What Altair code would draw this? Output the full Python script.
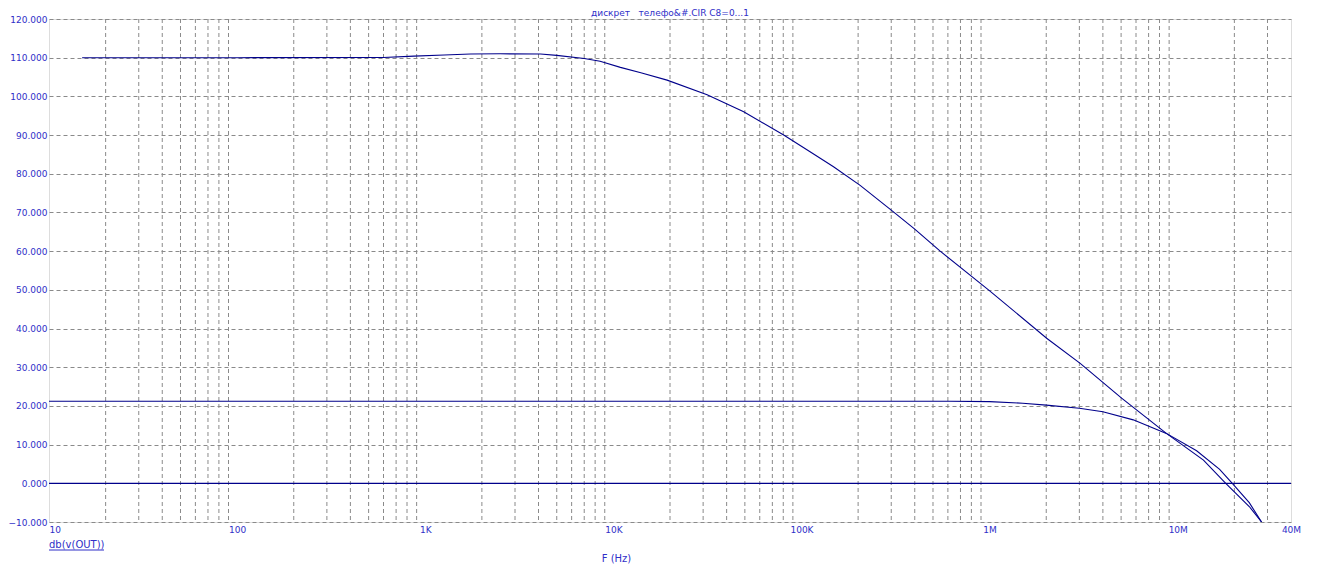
import altair as alt
import pandas as pd

# --- data ---
hi_f = [15, 100, 600, 870, 1260, 1740, 2500, 4100, 5000, 7000, 8500, 10900, 14000, 19300, 31500,
        49300, 80400, 110000, 148000, 205000, 300000, 400000, 546000, 986000, 2010000, 3030000,
        5030000, 8700000, 13700000, 18000000, 24000000, 27900000]
hi_db = [110.0, 110.0, 110.05, 110.4, 110.7, 110.95, 111.0, 110.95, 110.6, 109.8, 109.1, 107.5,
         106.1, 104.2, 100.4, 96.0, 90.0, 85.8, 81.8, 77.0, 70.6, 65.7, 60.0, 50.0, 37.5, 31.0,
         22.0, 12.9, 6.0, 0.0, -6.0, -10.0]

lo_f = [10, 1000, 100000, 617000, 1000000, 1500000, 2000000, 3000000, 4000000, 5800000,
        8700000, 12600000, 16700000, 19500000, 24000000, 27900000]
lo_db = [21.2, 21.2, 21.2, 21.2, 21.1, 20.7, 20.2, 19.4, 18.5, 16.4, 12.9, 8.4, 3.6, 0.0,
         -5.0, -10.0]

x_tick_values = [10, 100, 1000, 10000, 100000, 1000000, 10000000, 40000000]
x_tick_labels = ["10", "100", "1K", "10K", "100K", "1M", "10M", "40M"]
x_grid_values = [m * 10 ** k for k in range(1, 8) for m in range(2, 10) if m * 10 ** k < 40000000]
y_tick_values = list(range(-10, 121, 10))

title_text = "дискрет\u00a0\u00a0\u00a0телефо&#.CIR C8=0...1"
trace_label = "db(v(OUT))"
x_title = "F (Hz)"

# --- build tables ---
curves = pd.concat([
    pd.DataFrame({"f": hi_f, "db": hi_db, "series": "a"}),
    pd.DataFrame({"f": lo_f, "db": lo_db, "series": "b"}),
])
grid_df = pd.DataFrame({"f": x_grid_values})

FONT = "DejaVu Sans"
BLUE = "#2f2fc8"
NAVY = "#00008b"
GRAY = "#8a8a8a"
W, H = 1242, 503

label_map = "{" + ",".join(f"'{v}':'{l}'" for v, l in zip(x_tick_values, x_tick_labels)) + "}"

xscale = alt.Scale(type="log", domain=[10, 40000000], nice=False)
yscale = alt.Scale(domain=[-10, 120], nice=False, zero=False)

x_axis = alt.Axis(
    values=x_tick_values,
    labelExpr=f"{label_map}[''+datum.value]",
    grid=False, ticks=False, domain=False,
    labelFont=FONT, labelFontSize=9, labelColor=BLUE, labelPadding=3,
    labelAlign={"condition": {"test": "datum.value <= 10", "value": "left"}, "value": "center"},
    labelBaseline="top",
    title=x_title, titleFont=FONT, titleFontSize=10, titleColor=BLUE,
    titleFontWeight="normal", titleX=567, titleY=36, titleBaseline="middle",
    titleAlign="center",
)
y_axis = alt.Axis(
    values=y_tick_values, format=".3f",
    grid=True, gridDash=[4, 3], gridColor=GRAY, gridWidth=1, gridOpacity=1,
    ticks=False, domain=False,
    labelFont=FONT, labelFontSize=9, labelColor=BLUE, labelPadding=2,
    title=None,
)

vgrid = alt.Chart(grid_df).mark_rule(color=GRAY, strokeDash=[4, 3], strokeWidth=1).encode(
    x=alt.X("f:Q", scale=xscale, axis=x_axis)
)

lines = alt.Chart(curves).mark_line(color=NAVY, strokeWidth=1.1, clip=True).encode(
    x=alt.X("f:Q", scale=xscale, axis=x_axis),
    y=alt.Y("db:Q", scale=yscale, axis=y_axis),
    detail="series:N",
)

zero_line = alt.Chart(pd.DataFrame({"y": [0]})).mark_rule(color=NAVY, strokeWidth=1.3).encode(
    y=alt.Y("y:Q", scale=yscale, axis=y_axis)
)

title_mark = alt.Chart(pd.DataFrame({"t": [title_text]})).mark_text(
    font=FONT, fontSize=9, color=BLUE, align="center", baseline="middle"
).encode(x=alt.value(W / 2), y=alt.value(-6), text="t:N")

trace_text = alt.Chart(pd.DataFrame({"t": [trace_label]})).mark_text(
    font=FONT, fontSize=10, color=BLUE, align="left", baseline="middle"
).encode(x=alt.value(0), y=alt.value(526), text="t:N")

underline = alt.Chart(pd.DataFrame({"t": [trace_label]})).mark_rule(color=BLUE, strokeWidth=1).encode(
    x=alt.value(0), x2=alt.value(55), y=alt.value(531)
)

chart = alt.layer(vgrid, zero_line, lines, title_mark, trace_text, underline).properties(
    width=W, height=H,
    autosize=alt.AutoSizeParams(type="none"),
    padding={"left": 41, "top": 11, "right": 20, "bottom": 45},
).configure_view(stroke=GRAY, strokeWidth=1).configure(background="white")

chart.save("out.html", embed_options={"renderer": "svg", "actions": False})
